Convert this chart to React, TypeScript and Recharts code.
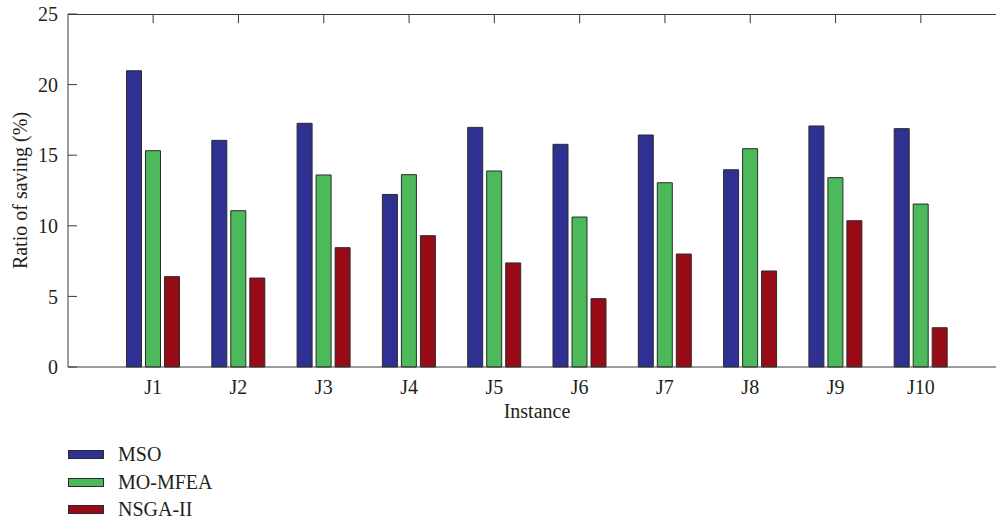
import { Bar, ComposedChart, Legend, ReferenceLine, XAxis, YAxis } from 'recharts'

const instances = ['J1', 'J2', 'J3', 'J4', 'J5', 'J6', 'J7', 'J8', 'J9', 'J10']
const seriesNames = ['MSO', 'MO-MFEA', 'NSGA-II']
const msoValues = [20.98, 16.05, 17.26, 12.22, 16.97, 15.77, 16.43, 13.97, 17.07, 16.88]
const moMfeaValues = [15.32, 11.07, 13.6, 13.62, 13.88, 10.62, 13.05, 15.46, 13.41, 11.54]
const nsga2Values = [6.4, 6.3, 8.45, 9.3, 7.37, 4.84, 8.0, 6.8, 10.36, 2.78]
const yTicks = [0, 5, 10, 15, 20, 25]
const yMax = 25

const data = instances.map((name, i) => ({
    name,
    mso: msoValues[i],
    momfea: moMfeaValues[i],
    nsga2: nsga2Values[i],
}))

const font = "'Liberation Serif', 'Times New Roman', serif"
const textColor = '#231f20'
const axisColor = '#3a3a3a'
const edge = '#2b2b2b'

const LegendBox = (props: any) => {
    const items = [...(props.payload || [])]
        .filter((a: any) => seriesNames.includes(a.value))
        .sort((a: any, b: any) => seriesNames.indexOf(a.value) - seriesNames.indexOf(b.value))
    return (
        <div style={{ height: 90, paddingLeft: 68, paddingTop: 11, boxSizing: 'border-box', fontFamily: font, fontSize: 20, color: textColor }}>
            {items.map((entry: any) => (
                <div key={entry.value} style={{ display: 'flex', alignItems: 'center', height: 27.5 }}>
                    <span style={{ display: 'inline-block', width: 36, height: 9, background: entry.color, border: `1px solid ${edge}`, boxSizing: 'border-box', marginRight: 14 }} />
                    <span>{entry.value}</span>
                </div>
            ))}
        </div>
    )
}

const App = () => {
    const tick = { fontFamily: font, fontSize: 20, fill: textColor }
    return (
        <div style={{ position: 'absolute', left: 0, top: 0, width: 996, height: 520, overflow: 'hidden', background: '#fff' }}>
            <ComposedChart width={1010} height={520} data={data} margin={{ top: 14, right: 4, left: 0, bottom: 0 }} barSize={15} barGap={4}>
                <XAxis
                    dataKey='name'
                    height={63}
                    padding={{ left: 42.5, right: 42.5 }}
                    tickLine={false}
                    tickSize={-9}
                    tickMargin={22}
                    tick={tick}
                    stroke={axisColor}
                    interval={0}
                    label={{ value: 'Instance', position: 'insideBottom', offset: 12, style: { fontFamily: font, fontSize: 20, fill: textColor } }}
                />
                <YAxis
                    width={68}
                    domain={[0, yMax]}
                    ticks={yTicks}
                    tickSize={-9}
                    tickMargin={19}
                    tick={tick}
                    stroke={axisColor}
                    label={{ value: 'Ratio of saving (%)', angle: -90, position: 'insideLeft', offset: 20, style: { fontFamily: font, fontSize: 20, fill: textColor, textAnchor: 'middle' } }}
                />
                <Legend verticalAlign='bottom' align='left' content={LegendBox} />
                {instances.map((name) => (
                    <ReferenceLine key={name} segment={[{ x: name, y: yMax }, { x: name, y: yMax - 0.65 }]} stroke={axisColor} ifOverflow='visible' />
                ))}
                <Bar dataKey='mso' name='MSO' fill='#2e3192' stroke={edge} strokeWidth={1} isAnimationActive={false} />
                <Bar dataKey='momfea' name='MO-MFEA' fill='#4cb95a' stroke={edge} strokeWidth={1} isAnimationActive={false} />
                <Bar dataKey='nsga2' name='NSGA-II' fill='#960b16' stroke={edge} strokeWidth={1} isAnimationActive={false} />
            </ComposedChart>
            {/* top edge of the plot box */}
            <div style={{ position: 'absolute', left: 68, top: 13.5, width: 940, height: 0, borderTop: `1px solid ${axisColor}`, zIndex: 10, pointerEvents: 'none' }} />
        </div>
    )
}

export default App
